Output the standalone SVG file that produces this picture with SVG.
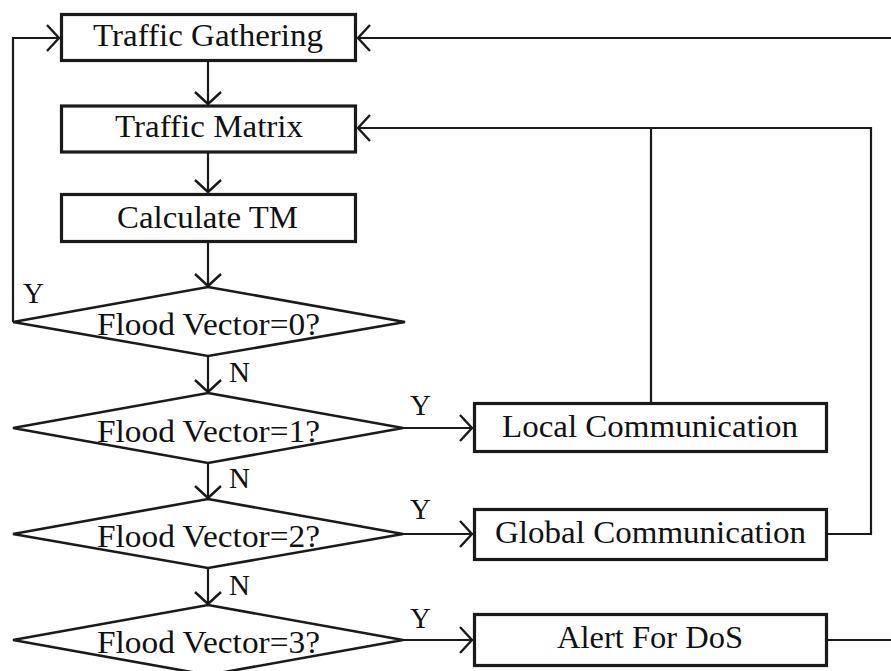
<svg xmlns="http://www.w3.org/2000/svg" width="891" height="671" viewBox="0 0 891 671">
<defs>
<style>
.box{fill:#fff;stroke:#1a1a1a;stroke-width:3.2}
.dia{fill:#fff;stroke:#1a1a1a;stroke-width:2.6}
.con{fill:none;stroke:#1a1a1a;stroke-width:2.2}
.t{font-family:"Liberation Serif","Times New Roman",serif;font-size:31px;fill:#111}
.l{font-family:"Liberation Serif","Times New Roman",serif;font-size:29px;fill:#111}
</style>
<marker id="ah" markerUnits="userSpaceOnUse" markerWidth="30" markerHeight="30" viewBox="-14 -15 16 30" refX="0" refY="0" orient="auto">
<path d="M-12,-13 L0,0 L-12,13" fill="none" stroke="#1a1a1a" stroke-width="2.4"/>
</marker>
</defs>
<rect width="891" height="671" fill="#fff"/>
<g id="connectors">
<line class="con" x1="208" y1="62" x2="208" y2="104" marker-end="url(#ah)"/>
<line class="con" x1="208" y1="153" x2="208" y2="192" marker-end="url(#ah)"/>
<line class="con" x1="208" y1="243" x2="208" y2="286" marker-end="url(#ah)"/>
<line class="con" x1="208" y1="356" x2="208" y2="392" marker-end="url(#ah)"/>
<line class="con" x1="208" y1="463" x2="208" y2="498" marker-end="url(#ah)"/>
<line class="con" x1="208" y1="568" x2="208" y2="604" marker-end="url(#ah)"/>
<polyline class="con" points="13,322 13,38 59,38" marker-end="url(#ah)"/>
<line class="con" x1="403" y1="428" x2="472" y2="428" marker-end="url(#ah)"/>
<line class="con" x1="403" y1="534" x2="472" y2="534" marker-end="url(#ah)"/>
<line class="con" x1="403" y1="640" x2="472" y2="640" marker-end="url(#ah)"/>
<line class="con" x1="651" y1="402" x2="651" y2="128"/>
<polyline class="con" points="828,534 871,534 871,128 358,128" marker-end="url(#ah)"/>
<polyline class="con" points="828,640 900,640 900,38 358,38" marker-end="url(#ah)"/>
<text class="l" x="23" y="303">Y</text>
<text class="l" x="229" y="382">N</text>
<text class="l" x="229" y="488">N</text>
<text class="l" x="229" y="595">N</text>
<text class="l" x="410" y="415">Y</text>
<text class="l" x="410" y="519">Y</text>
<text class="l" x="410" y="628">Y</text>
</g>
<g id="traffic-gathering">
<rect class="box" x="61.5" y="14.5" width="294" height="46"/>
<text class="t" x="93" y="46" textLength="230" lengthAdjust="spacingAndGlyphs">Traffic Gathering</text>
</g>
<g id="traffic-matrix">
<rect class="box" x="61.5" y="106" width="294" height="46"/>
<text class="t" x="115" y="137" textLength="188" lengthAdjust="spacingAndGlyphs">Traffic Matrix</text>
</g>
<g id="calculate-tm">
<rect class="box" x="61.5" y="194.5" width="294" height="47"/>
<text class="t" x="117" y="228" textLength="181" lengthAdjust="spacingAndGlyphs">Calculate TM</text>
</g>
<g id="flood0">
<polygon class="dia" points="208,287 405,322 208,356 13,322"/>
<text class="t" x="97" y="335" textLength="223" lengthAdjust="spacingAndGlyphs">Flood Vector=0?</text>
</g>
<g id="flood1">
<polygon class="dia" points="208,393 403,428 208,463 13,428"/>
<text class="t" x="97" y="442" textLength="223" lengthAdjust="spacingAndGlyphs">Flood Vector=1?</text>
</g>
<g id="flood2">
<polygon class="dia" points="208,499 403,534 208,568 13,534"/>
<text class="t" x="97" y="547" textLength="223" lengthAdjust="spacingAndGlyphs">Flood Vector=2?</text>
</g>
<g id="flood3">
<polygon class="dia" points="208,605 403,640 208,675 13,640"/>
<text class="t" x="97" y="653" textLength="223" lengthAdjust="spacingAndGlyphs">Flood Vector=3?</text>
</g>
<g id="local-communication">
<rect class="box" x="474.5" y="403.5" width="352" height="48"/>
<text class="t" x="502" y="437" textLength="296" lengthAdjust="spacingAndGlyphs">Local Communication</text>
</g>
<g id="global-communication">
<rect class="box" x="474.5" y="509.5" width="352" height="50"/>
<text class="t" x="495" y="543" textLength="311" lengthAdjust="spacingAndGlyphs">Global Communication</text>
</g>
<g id="alert-dos">
<rect class="box" x="474.5" y="614.5" width="352" height="51"/>
<text class="t" x="557" y="648" textLength="186" lengthAdjust="spacingAndGlyphs">Alert For DoS</text>
</g>
</svg>
